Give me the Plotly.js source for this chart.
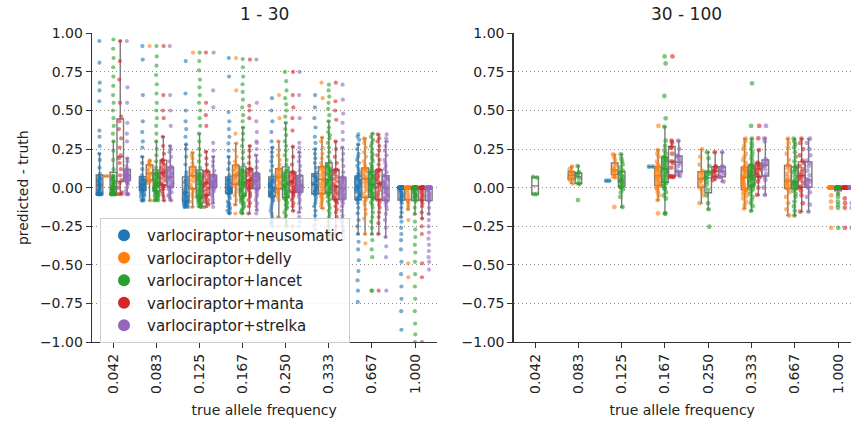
<!DOCTYPE html>
<html>
<head>
<meta charset="utf-8">
<script src="https://cdn.plot.ly/plotly-3.0.1.min.js"></script>
<style>html,body{margin:0;padding:0;background:#fff;}#chart{width:851px;height:424px;}</style>
</head>
<body>
<div id="chart"></div>
<script>
// ---------- categories / series ----------
const freqs = ["0.042","0.083","0.125","0.167","0.250","0.333","0.667","1.000"];
const seriesNames = ["varlociraptor+neusomatic","varlociraptor+delly","varlociraptor+lancet","varlociraptor+manta","varlociraptor+strelka"];
const seriesColors = ["#1f77b4","#ff7f0e","#2ca02c","#d62728","#9467bd"];
const panelTitles = ["1 - 30","30 - 100"];

// ---------- panel "1 - 30": predicted - truth, one list per true allele frequency ----------
const neusomatic_1_30 = [
 [-0.042,-0.042,-0.042,-0.042,-0.042,-0.042,-0.042,-0.042,-0.042,-0.042,-0.042,-0.042,-0.04,-0.035,-0.03,-0.025,-0.02,-0.015,-0.01,-0.005,0,0.005,0.01,0.015,0.02,0.025,0.03,0.035,0.04,0.045,0.05,0.055,0.06,0.065,0.07,0.075,0.09,0.13,0.18,0.22,0.27,0.33,0.37,0.56,0.63,0.68,0.81,0.95],
 [-0.083,-0.083,-0.08,-0.07,-0.06,-0.05,-0.045,-0.04,-0.03,-0.025,-0.02,-0.017,-0.013,-0.01,-0.006,-0.003,0,0.004,0.008,0.012,0.016,0.02,0.024,0.028,0.032,0.036,0.04,0.044,0.048,0.052,0.056,0.06,0.063,0.08,0.12,0.16,0.2,0.26,0.3,0.36,0.43,0.6,0.83,0.917],
 [-0.125,-0.125,-0.125,-0.12,-0.115,-0.11,-0.105,-0.1,-0.097,-0.094,-0.09,-0.088,-0.086,-0.08,-0.075,-0.07,-0.065,-0.06,-0.055,-0.05,-0.045,-0.04,-0.035,-0.03,-0.028,-0.02,-0.012,-0.004,0.004,0.012,0.02,0.028,0.036,0.044,0.05,0.058,0.08,0.1,0.15,0.2,0.25,0.28,0.33,0.38,0.43,0.5,0.61,0.82],
 [-0.167,-0.16,-0.15,-0.14,-0.13,-0.12,-0.11,-0.1,-0.09,-0.07,-0.055,-0.04,-0.036,-0.033,-0.03,-0.027,-0.024,-0.021,-0.018,-0.015,-0.012,-0.009,-0.006,-0.003,0,0.006,0.012,0.018,0.024,0.03,0.036,0.042,0.048,0.053,0.057,0.06,0.08,0.12,0.16,0.2,0.24,0.287,0.33,0.38,0.43,0.49,0.72,0.84],
 [-0.25,-0.23,-0.21,-0.19,-0.17,-0.15,-0.13,-0.11,-0.09,-0.08,-0.07,-0.06,-0.054,-0.049,-0.044,-0.039,-0.034,-0.029,-0.024,-0.019,-0.014,-0.009,-0.004,0,0.005,0.01,0.015,0.02,0.025,0.03,0.035,0.04,0.045,0.05,0.055,0.06,0.08,0.11,0.14,0.17,0.2,0.23,0.26,0.3,0.36,0.43,0.5,0.58],
 [-0.333,-0.3,-0.27,-0.24,-0.21,-0.18,-0.15,-0.12,-0.1,-0.08,-0.06,-0.045,-0.037,-0.032,-0.027,-0.022,-0.017,-0.012,-0.007,-0.002,0.003,0.008,0.013,0.018,0.022,0.028,0.034,0.04,0.046,0.052,0.058,0.064,0.07,0.074,0.078,0.082,0.1,0.13,0.16,0.19,0.22,0.25,0.29,0.33,0.39,0.45,0.52,0.6],
 [-0.74,-0.667,-0.6,-0.54,-0.47,-0.4,-0.35,-0.3,-0.25,-0.21,-0.166,-0.13,-0.1,-0.08,-0.076,-0.07,-0.064,-0.058,-0.052,-0.046,-0.04,-0.034,-0.028,-0.022,-0.016,-0.01,-0.005,0,0.005,0.01,0.015,0.02,0.025,0.03,0.035,0.04,0.045,0.05,0.055,0.06,0.065,0.071,0.08,0.09,0.1,0.12,0.14,0.16,0.18,0.2,0.22,0.25,0.28,0.31,0.33,0.345],
 [-0.92,-0.8,-0.72,-0.64,-0.56,-0.48,-0.4,-0.34,-0.3,-0.26,-0.22,-0.19,-0.16,-0.13,-0.1,-0.085,-0.076,-0.07,-0.064,-0.058,-0.052,-0.046,-0.04,-0.034,-0.028,-0.022,-0.016,-0.01,-0.005,0,0,0,0,0,0,0,0,0,0,0,0,0,0,0,0,0,0,0,0,0,0,0,0,0,0,0,0,0,0,0,0,0,0,0]
];
const delly_1_30 = [
 [0.075,0.075],
 [-0.083,0.03,0.038,0.043,0.047,0.05,0.06,0.07,0.08,0.09,0.095,0.11,0.12,0.135,0.145,0.15,0.16,0.17,0.177,0.917],
 [-0.125,-0.09,-0.06,-0.04,-0.02,-0.01,0,0.02,0.04,0.05,0.065,0.075,0.08,0.09,0.1,0.11,0.12,0.13,0.14,0.16,0.19,0.21,0.227,0.875],
 [-0.167,-0.11,-0.08,-0.05,-0.03,-0.01,0.01,0.02,0.024,0.03,0.04,0.05,0.06,0.07,0.075,0.08,0.082,0.09,0.1,0.11,0.12,0.13,0.14,0.145,0.147,0.17,0.2,0.24,0.287,0.35,0.63,0.84],
 [-0.25,-0.19,-0.08,-0.06,-0.04,-0.03,-0.02,-0.01,-0.004,0.01,0.02,0.03,0.04,0.05,0.06,0.065,0.07,0.08,0.085,0.09,0.1,0.11,0.115,0.12,0.125,0.15,0.18,0.21,0.244,0.3,0.45,0.6],
 [-0.333,-0.134,-0.12,-0.1,-0.085,-0.07,-0.06,-0.05,-0.04,-0.036,-0.02,-0.01,0,0.01,0.02,0.03,0.04,0.05,0.06,0.07,0.08,0.09,0.1,0.11,0.12,0.13,0.135,0.136,0.16,0.19,0.22,0.26,0.3,0.325,0.58,0.68],
 [-0.36,-0.3,-0.2,-0.17,-0.14,-0.11,-0.09,-0.075,-0.065,-0.06,-0.04,-0.02,-0.005,0.01,0.025,0.035,0.045,0.055,0.06,0.07,0.08,0.09,0.1,0.11,0.115,0.12,0.125,0.13,0.15,0.17,0.2,0.23,0.26,0.29,0.31,0.32],
 [-0.58,-0.49,-0.21,-0.14,-0.12,-0.1,-0.09,-0.08,-0.076,-0.06,-0.045,-0.03,-0.015,0,0,0,0,0,0,0,0,0,0,0,0,0,0,0,0,0,0,0]
];
const lancet_1_30 = [
 [-0.042,-0.042,-0.042,-0.042,-0.042,-0.042,-0.042,-0.042,-0.042,-0.042,-0.042,-0.042,-0.042,-0.042,-0.042,-0.042,-0.04,-0.037,-0.034,-0.031,-0.028,-0.025,-0.022,-0.019,-0.016,-0.013,-0.01,-0.008,-0.006,-0.004,-0.002,0,0.005,0.01,0.015,0.02,0.025,0.03,0.035,0.04,0.045,0.05,0.055,0.06,0.065,0.07,0.075,0.08,0.12,0.18,0.24,0.3,0.35,0.4,0.45,0.5,0.55,0.6,0.66,0.72,0.78,0.84,0.9,0.96],
 [-0.083,-0.083,-0.08,-0.075,-0.07,-0.065,-0.06,-0.055,-0.05,-0.045,-0.04,-0.035,-0.03,-0.027,-0.024,-0.021,-0.02,-0.016,-0.012,-0.008,-0.004,0,0.003,0.006,0.009,0.012,0.015,0.018,0.021,0.024,0.027,0.03,0.035,0.04,0.045,0.05,0.055,0.06,0.065,0.07,0.075,0.08,0.085,0.088,0.091,0.094,0.097,0.1,0.13,0.17,0.21,0.25,0.3,0.35,0.4,0.45,0.5,0.55,0.61,0.67,0.73,0.79,0.85,0.917],
 [-0.125,-0.125,-0.12,-0.115,-0.11,-0.105,-0.1,-0.095,-0.09,-0.085,-0.08,-0.075,-0.07,-0.067,-0.064,-0.061,-0.06,-0.055,-0.05,-0.045,-0.04,-0.035,-0.03,-0.025,-0.02,-0.015,-0.01,-0.005,0,0.007,0.013,0.02,0.025,0.03,0.035,0.04,0.045,0.05,0.055,0.06,0.065,0.07,0.075,0.08,0.085,0.09,0.095,0.1,0.13,0.17,0.21,0.25,0.3,0.35,0.4,0.45,0.5,0.55,0.6,0.65,0.7,0.76,0.82,0.875],
 [-0.167,-0.16,-0.15,-0.14,-0.13,-0.12,-0.11,-0.1,-0.095,-0.09,-0.08,-0.075,-0.07,-0.065,-0.06,-0.055,-0.05,-0.044,-0.038,-0.032,-0.026,-0.02,-0.014,-0.008,-0.002,0.004,0.01,0.014,0.018,0.022,0.026,0.03,0.035,0.041,0.047,0.053,0.059,0.065,0.071,0.077,0.083,0.089,0.095,0.1,0.105,0.11,0.115,0.12,0.15,0.19,0.23,0.27,0.31,0.35,0.39,0.43,0.47,0.52,0.57,0.62,0.67,0.72,0.78,0.833],
 [-0.25,-0.24,-0.22,-0.2,-0.18,-0.16,-0.14,-0.13,-0.12,-0.11,-0.1,-0.09,-0.08,-0.075,-0.07,-0.065,-0.06,-0.054,-0.048,-0.042,-0.036,-0.03,-0.024,-0.018,-0.012,-0.006,0,0.004,0.008,0.012,0.016,0.02,0.026,0.032,0.038,0.044,0.05,0.056,0.062,0.068,0.074,0.08,0.086,0.092,0.098,0.104,0.11,0.12,0.15,0.18,0.21,0.24,0.27,0.3,0.34,0.38,0.42,0.46,0.5,0.54,0.58,0.63,0.69,0.75],
 [-0.333,-0.31,-0.28,-0.25,-0.22,-0.19,-0.17,-0.15,-0.13,-0.11,-0.09,-0.075,-0.06,-0.05,-0.04,-0.035,-0.03,-0.024,-0.018,-0.012,-0.006,0,0.005,0.01,0.015,0.02,0.025,0.03,0.035,0.04,0.045,0.05,0.056,0.062,0.068,0.074,0.08,0.086,0.092,0.098,0.104,0.11,0.116,0.122,0.128,0.135,0.142,0.15,0.17,0.2,0.23,0.26,0.29,0.32,0.34,0.36,0.39,0.43,0.47,0.51,0.55,0.59,0.63,0.667],
 [-0.667,-0.667,-0.45,-0.4,-0.34,-0.3,-0.26,-0.22,-0.19,-0.16,-0.13,-0.11,-0.095,-0.08,-0.07,-0.065,-0.06,-0.054,-0.048,-0.042,-0.036,-0.03,-0.024,-0.018,-0.012,-0.006,0,0.004,0.008,0.012,0.016,0.02,0.025,0.03,0.035,0.04,0.045,0.05,0.055,0.06,0.065,0.07,0.075,0.08,0.085,0.09,0.095,0.1,0.11,0.12,0.13,0.14,0.155,0.17,0.185,0.2,0.215,0.23,0.25,0.27,0.29,0.31,0.33,0.35],
 [-1,-0.95,-0.88,-0.8,-0.72,-0.64,-0.56,-0.48,-0.42,-0.37,-0.32,-0.27,-0.22,-0.17,-0.13,-0.09,-0.076,-0.071,-0.066,-0.061,-0.056,-0.051,-0.046,-0.041,-0.036,-0.031,-0.026,-0.021,-0.016,-0.011,-0.006,0,0,0,0,0,0,0,0,0,0,0,0,0,0,0,0,0,0,0,0,0,0,0,0,0,0,0,0,0,0,0,0,0]
];
const manta_1_30 = [
 [-0.042,-0.042,-0.03,0,0.03,0.05,0.08,0.12,0.16,0.19,0.21,0.26,0.32,0.38,0.43,0.46,0.55,0.7,0.82,0.95],
 [-0.083,-0.06,-0.04,-0.02,-0.01,0,0.01,0.015,0.02,0.03,0.045,0.06,0.07,0.08,0.09,0.095,0.1,0.11,0.12,0.13,0.145,0.155,0.165,0.175,0.18,0.22,0.27,0.33,0.45,0.5,0.6,0.917],
 [-0.125,-0.11,-0.1,-0.09,-0.08,-0.07,-0.06,-0.05,-0.047,-0.035,-0.02,-0.01,0,0.01,0.02,0.028,0.033,0.045,0.055,0.065,0.075,0.085,0.095,0.105,0.11,0.15,0.19,0.233,0.4,0.47,0.55,0.875],
 [-0.167,-0.12,-0.1,-0.08,-0.06,-0.045,-0.03,-0.015,-0.005,0,0.006,0.012,0.018,0.024,0.03,0.036,0.042,0.047,0.05,0.06,0.07,0.08,0.09,0.1,0.11,0.115,0.12,0.125,0.16,0.2,0.24,0.27,0.45,0.5,0.53,0.83],
 [-0.25,-0.15,-0.12,-0.1,-0.08,-0.065,-0.05,-0.04,-0.03,-0.026,-0.018,-0.01,-0.002,0.006,0.014,0.022,0.03,0.036,0.04,0.048,0.056,0.064,0.072,0.08,0.088,0.095,0.1,0.103,0.15,0.2,0.266,0.37,0.45,0.52,0.6,0.75],
 [-0.3,-0.25,-0.188,-0.16,-0.14,-0.12,-0.1,-0.09,-0.08,-0.075,-0.065,-0.055,-0.045,-0.035,-0.025,-0.015,-0.005,0.005,0.01,0.025,0.04,0.055,0.07,0.085,0.1,0.11,0.115,0.118,0.16,0.2,0.25,0.3,0.44,0.5,0.56,0.68],
 [-0.667,-0.3,-0.23,-0.19,-0.16,-0.13,-0.11,-0.09,-0.08,-0.075,-0.06,-0.045,-0.03,-0.015,0,0.01,0.02,0.025,0.03,0.042,0.054,0.066,0.078,0.09,0.1,0.11,0.115,0.118,0.15,0.18,0.21,0.24,0.27,0.3,0.32,0.345],
 [-1,-0.58,-0.49,-0.3,-0.25,-0.2,-0.16,-0.12,-0.1,-0.085,-0.076,-0.066,-0.056,-0.046,-0.036,-0.026,-0.016,-0.006,0,0,0,0,0,0,0,0,0,0,0,0,0,0,0,0,0,0,0,0,0,0]
];
const strelka_1_30 = [
 [-0.042,-0.042,-0.042,-0.02,0,0.02,0.03,0.035,0.04,0.045,0.047,0.05,0.055,0.06,0.063,0.066,0.07,0.073,0.076,0.078,0.08,0.085,0.09,0.094,0.098,0.102,0.106,0.11,0.114,0.117,0.12,0.14,0.17,0.19,0.3,0.35,0.42,0.55,0.65,0.95],
 [-0.083,-0.07,-0.06,-0.05,-0.04,-0.03,-0.02,-0.01,0,0.003,0.006,0.013,0.02,0.027,0.034,0.041,0.048,0.055,0.062,0.066,0.07,0.077,0.084,0.091,0.098,0.105,0.112,0.119,0.126,0.131,0.136,0.17,0.2,0.23,0.25,0.27,0.4,0.5,0.6,0.917],
 [-0.125,-0.1,-0.08,-0.06,-0.045,-0.03,-0.02,-0.01,-0.005,0,0.002,0.006,0.01,0.014,0.018,0.022,0.026,0.03,0.034,0.037,0.04,0.045,0.05,0.055,0.06,0.065,0.07,0.074,0.078,0.08,0.082,0.11,0.14,0.17,0.2,0.24,0.29,0.52,0.63,0.875],
 [-0.167,-0.145,-0.12,-0.1,-0.08,-0.06,-0.045,-0.03,-0.02,-0.01,-0.006,-0.004,0.002,0.008,0.014,0.02,0.026,0.032,0.038,0.042,0.046,0.048,0.05,0.055,0.06,0.065,0.07,0.074,0.078,0.082,0.086,0.09,0.092,0.093,0.13,0.17,0.21,0.25,0.29,0.3,0.36,0.43,0.55,0.83],
 [-0.25,-0.22,-0.19,-0.16,-0.13,-0.1,-0.08,-0.06,-0.045,-0.035,-0.03,-0.026,-0.022,-0.018,-0.014,-0.01,-0.006,-0.002,0.002,0.006,0.01,0.014,0.017,0.023,0.029,0.035,0.041,0.047,0.053,0.059,0.065,0.071,0.076,0.08,0.11,0.14,0.17,0.2,0.23,0.26,0.29,0.45,0.6,0.75],
 [-0.333,-0.31,-0.28,-0.25,-0.22,-0.2,-0.18,-0.15,-0.12,-0.1,-0.085,-0.075,-0.07,-0.064,-0.058,-0.052,-0.046,-0.04,-0.034,-0.028,-0.022,-0.016,-0.01,-0.005,0,0.006,0.012,0.018,0.024,0.03,0.036,0.042,0.048,0.054,0.06,0.065,0.07,0.1,0.14,0.18,0.22,0.26,0.31,0.36,0.42,0.48,0.57,0.667],
 [-0.667,-0.45,-0.38,-0.32,-0.26,-0.21,-0.17,-0.14,-0.12,-0.1,-0.09,-0.085,-0.08,-0.073,-0.066,-0.059,-0.052,-0.045,-0.038,-0.031,-0.024,-0.017,-0.01,-0.004,0,0.007,0.014,0.021,0.028,0.035,0.042,0.049,0.056,0.063,0.07,0.075,0.08,0.1,0.12,0.14,0.16,0.18,0.21,0.24,0.27,0.3,0.32,0.345],
 [-0.53,-0.48,-0.45,-0.41,-0.37,-0.33,-0.29,-0.25,-0.21,-0.17,-0.13,-0.09,-0.076,-0.068,-0.06,-0.052,-0.044,-0.036,-0.028,-0.02,-0.012,-0.004,0,0,0,0,0,0,0,0,0,0,0,0,0,0,0,0,0,0,0,0,0,0,0,0,0,0]
];

// ---------- panel "30 - 100" ----------
const neusomatic_30_100 = [[],[],[0.045,0.045],[0.136,0.136],[],[],[],[]];
const delly_30_100 = [
 [],
 [0.028,0.05,0.055,0.06,0.07,0.08,0.09,0.1,0.104,0.12,0.136],
 [-0.125,0.067,0.07,0.09,0.1,0.11,0.115,0.12,0.14,0.153,0.18,0.2,0.216],
 [-0.166,-0.08,-0.05,-0.03,-0.01,0,0.01,0.02,0.03,0.04,0.05,0.06,0.07,0.075,0.082,0.09,0.1,0.11,0.12,0.125,0.13,0.136,0.15,0.17,0.2,0.22,0.244,0.4],
 [-0.1,-0.05,-0.02,0,0.006,0.03,0.045,0.055,0.06,0.075,0.09,0.1,0.108,0.15,0.2,0.248],
 [-0.134,-0.11,-0.09,-0.07,-0.055,-0.04,-0.03,-0.02,-0.015,-0.01,0,0.01,0.02,0.03,0.04,0.05,0.06,0.065,0.07,0.08,0.09,0.1,0.11,0.115,0.12,0.125,0.13,0.136,0.16,0.18,0.2,0.22,0.25,0.27,0.3,0.317],
 [-0.18,-0.14,-0.1,-0.06,-0.03,-0.01,0,0.01,0.02,0.03,0.04,0.045,0.05,0.07,0.09,0.11,0.13,0.14,0.147,0.18,0.22,0.26,0.29,0.317],
 [-0.26,-0.13,-0.09,-0.05,0,0,0,0,0,0,0,0,0,0,0,0,0,0]
];
const lancet_30_100 = [
 [-0.042,-0.042,0.065,0.07],
 [-0.08,0.024,0.03,0.06,0.08,0.09,0.1,0.14],
 [-0.125,-0.06,-0.03,-0.01,0,0.004,0.007,0.015,0.025,0.035,0.04,0.045,0.05,0.06,0.07,0.08,0.09,0.1,0.11,0.13,0.15,0.17,0.19,0.216],
 [-0.167,-0.167,-0.07,-0.05,-0.03,-0.01,0,0.01,0.02,0.03,0.04,0.05,0.06,0.07,0.08,0.09,0.1,0.105,0.11,0.12,0.125,0.13,0.14,0.15,0.16,0.17,0.175,0.18,0.19,0.195,0.2,0.22,0.24,0.27,0.304,0.395,0.449,0.594,0.805,0.85],
 [-0.253,-0.14,-0.1,-0.05,-0.015,0.02,0.04,0.06,0.067,0.08,0.09,0.1,0.104,0.14,0.19,0.23],
 [-0.15,-0.12,-0.1,-0.08,-0.06,-0.04,-0.02,-0.01,0,0.008,0.012,0.017,0.025,0.032,0.04,0.047,0.054,0.06,0.066,0.07,0.075,0.078,0.08,0.087,0.094,0.1,0.107,0.114,0.12,0.127,0.133,0.14,0.144,0.147,0.17,0.19,0.21,0.23,0.25,0.27,0.29,0.317,0.4,0.676],
 [-0.18,-0.15,-0.12,-0.09,-0.06,-0.04,-0.02,-0.01,0,0.006,0.012,0.018,0.024,0.03,0.034,0.037,0.04,0.055,0.07,0.085,0.1,0.11,0.12,0.13,0.14,0.17,0.2,0.23,0.26,0.28,0.3,0.317],
 [-0.26,-0.13,-0.11,-0.09,-0.06,-0.04,0,0,0,0,0,0,0,0,0,0,0,0,0,0,0,0,0,0]
];
const manta_30_100 = [
 [],[],[],
 [0.071,0.071,0.071,0.075,0.13,0.16,0.17,0.22,0.26,0.26,0.29,0.304,0.85],
 [0.05,0.071,0.071,0.09,0.104,0.11,0.12,0.136,0.136,0.23],
 [-0.047,0,0.04,0.065,0.076,0.09,0.1,0.115,0.126,0.135,0.145,0.155,0.162,0.244,0.32,0.4],
 [-0.155,-0.1,-0.05,-0.02,0,0.006,0.03,0.05,0.065,0.075,0.082,0.1,0.12,0.14,0.16,0.175,0.21,0.25,0.29,0.317],
 [-0.26,-0.13,-0.1,-0.07,0,0,0,0,0,0,0,0,0,0,0,0,0,0]
];
const strelka_30_100 = [
 [],[],[],
 [0.075,0.09,0.1,0.11,0.14,0.16,0.17,0.19,0.2,0.21,0.25,0.304],
 [0.04,0.071,0.071,0.09,0.104,0.11,0.12,0.136,0.136,0.23],
 [-0.047,0,0.05,0.071,0.09,0.12,0.14,0.145,0.15,0.158,0.17,0.183,0.3,0.32,0.4],
 [-0.155,-0.11,-0.06,-0.03,0,0.006,0.02,0.03,0.04,0.05,0.054,0.08,0.11,0.14,0.16,0.175,0.21,0.25,0.29,0.317],
 [-0.26,-0.13,-0.1,0,0,0,0,0,0,0,0,0,0,0,0]
];

const panelData = [
  [neusomatic_1_30, delly_1_30, lancet_1_30, manta_1_30, strelka_1_30],
  [neusomatic_30_100, delly_30_100, lancet_30_100, manta_30_100, strelka_30_100]
];

// ---------- build traces ----------
const traces = [];
panelData.forEach((seriesList, p) => {
  seriesList.forEach((groups, s) => {
    const xs = [], ys = [];
    groups.forEach((vals, i) => { vals.forEach(v => { xs.push(freqs[i]); ys.push(v); }); });
    traces.push({
      type: 'box', x: xs, y: ys, orientation: 'v',
      xaxis: p === 0 ? 'x' : 'x2', yaxis: p === 0 ? 'y' : 'y2',
      name: seriesNames[s], showlegend: false,
      offsetgroup: 'g' + s, alignmentgroup: 'panel' + p,
      boxpoints: 'all', jitter: 0.75, pointpos: 0,
      line: {color: '#7a7a7a', width: 1.4},
      fillcolor: 'rgba(255,255,255,0)',
      whiskerwidth: 0.5,
      marker: {color: seriesColors[s], size: p === 0 ? 4.2 : 4.8, opacity: p === 0 ? 0.6 : 0.6},
      hoverinfo: 'skip'
    });
  });
});
// legend entries
seriesNames.forEach((n, s) => {
  traces.push({type: 'scatter', mode: 'markers', x: [null], y: [null], xaxis: 'x', yaxis: 'y',
    name: n, showlegend: true, marker: {color: seriesColors[s], size: 12}, hoverinfo: 'skip'});
});

const W = 851, H = 424;
const yDom = [(H - 342.1) / H, (H - 33.3) / H];
const font = {family: 'DejaVu Sans, sans-serif', color: '#222'};
function xAxis(dom, rng, anchor) {
  return {domain: dom, anchor: anchor, type: 'category', categoryorder: 'array', categoryarray: freqs,
    range: rng, tickangle: -90, tickfont: {size: 14, family: font.family, color: '#222'},
    showline: true, linecolor: '#333', linewidth: 1.2, ticks: 'outside', ticklen: 5, tickcolor: '#333',
    showgrid: false, zeroline: false, automargin: false,
    title: {text: 'true allele frequency', font: {size: 14, family: font.family, color: '#222'}, standoff: 12}};
}
function yAxis(anchor, withTitle) {
  const a = {domain: yDom, anchor: anchor, range: [-1, 1], tick0: -1, dtick: 0.25, tickformat: '.2f',
    tickfont: {size: 14, family: font.family, color: '#222'},
    showline: true, linecolor: '#333', linewidth: 1.2, ticks: 'outside', ticklen: 5, tickcolor: '#333',
    showgrid: true, gridcolor: '#8a8a8a', griddash: '1.5px,2.5px', gridwidth: 1, zeroline: false, automargin: false};
  if (withTitle) a.title = {text: 'predicted - truth', font: {size: 14, family: font.family, color: '#222'}, standoff: 8};
  return a;
}
const xl = [91.8 / W, 436.6 / W];
const xr = [513.5 / W, 1];
const layout = {
  width: W, height: H, margin: {l: 0, r: 0, t: 0, b: 0},
  paper_bgcolor: '#fff', plot_bgcolor: '#fff', font: font,
  boxmode: 'group', boxgap: 0.2, boxgroupgap: 0.05,
  xaxis: xAxis(xl, [-0.5, 7.5], 'y'),
  yaxis: yAxis('x', true),
  xaxis2: xAxis(xr, [-0.5, 7.3], 'y2'),
  yaxis2: yAxis('x2', false),
  showlegend: true,
  legend: {x: 100 / W, y: (H - 218) / H, xanchor: 'left', yanchor: 'top',
    bgcolor: 'rgba(255,255,255,0.8)', bordercolor: '#cccccc', borderwidth: 1,
    font: {size: 15, family: font.family, color: '#222'}, itemsizing: 'constant', itemwidth: 36},
  annotations: [
    {text: panelTitles[0], xref: 'paper', yref: 'paper', x: (xl[0] + xl[1]) / 2, y: (H - 14) / H, showarrow: false, xanchor: 'center', yanchor: 'middle', font: {size: 17, family: font.family, color: '#222'}},
    {text: panelTitles[1], xref: 'paper', yref: 'paper', x: (513.5 + 859.6) / 2 / W, y: (H - 14) / H, showarrow: false, xanchor: 'center', yanchor: 'middle', font: {size: 17, family: font.family, color: '#222'}}
  ]
};
Plotly.newPlot('chart', traces, layout, {displayModeBar: false, staticPlot: true});
</script>
</body>
</html>
